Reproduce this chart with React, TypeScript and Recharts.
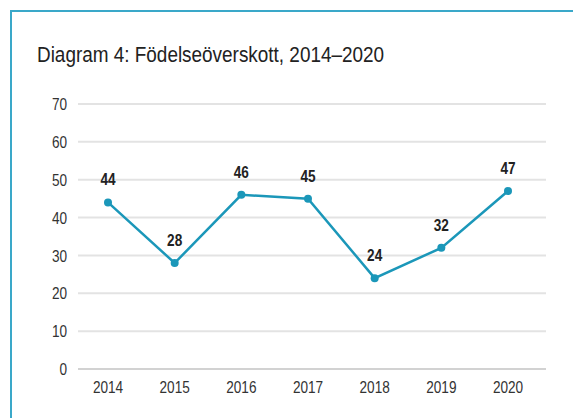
import React from 'react';
import { LineChart, Line, XAxis, YAxis, CartesianGrid, LabelList } from 'recharts';

const years = ['2014', '2015', '2016', '2017', '2018', '2019', '2020'];
const surplus = [44, 28, 46, 45, 24, 32, 47];
const yTicks = [0, 10, 20, 30, 40, 50, 60, 70];

const FONT = '"Liberation Sans", Arial, sans-serif';
const SQUEEZE = 0.8;

// narrow font is not available, so squeeze a regular one horizontally
const YTick = (props: any) => {
    const { x, y, payload } = props;
    return (
        <g transform={`translate(${x},${y}) scale(${SQUEEZE},1)`}>
            <text x={0} y={0} dy="0.36em" textAnchor="end" fontSize={17} fill="#333" fontFamily={FONT}>
                {payload.value}
            </text>
        </g>
    );
};

const XTick = (props: any) => {
    const { x, y, payload } = props;
    return (
        <g transform={`translate(${x},${y}) scale(${SQUEEZE},1)`}>
            <text x={0} y={0} dy="0.71em" textAnchor="middle" fontSize={17} fill="#333" fontFamily={FONT}>
                {payload.value}
            </text>
        </g>
    );
};

const ValueLabel = (props: any) => {
    const { x, y, value } = props;
    return (
        <g transform={`translate(${x},${y - 17}) scale(${SQUEEZE},1)`}>
            <text x={0} y={0} textAnchor="middle" fontSize={17} fontWeight={700} fill="#222" fontFamily={FONT}>
                {value}
            </text>
        </g>
    );
};

export default function App() {
    const data = years.map((year, i) => ({ year, value: surplus[i] }));

    return (
        <div style={{ position: 'absolute', left: 0, top: 0, width: 573, height: 418, background: '#fff', overflow: 'hidden', fontFamily: FONT }}>
            <div style={{ position: 'absolute', left: 10, top: 10, width: 600, height: 450, borderTop: '2px solid #3aa8c9', borderLeft: '2px solid #3aa8c9' }} />
            <div style={{ position: 'absolute', left: 37, top: 43, fontSize: 22, lineHeight: '24px', color: '#222', whiteSpace: 'nowrap', transform: 'scaleX(0.86)', transformOrigin: 'left top' }}>
                Diagram 4: Födelseöverskott, 2014–2020
            </div>
            <div style={{ position: 'absolute', left: 0, top: 0 }}>
                <LineChart width={573} height={418} data={data} margin={{ top: 104, right: 27, left: 0, bottom: 19 }}>
                    <CartesianGrid vertical={false} stroke="#e3e3e3" strokeWidth={2} />
                    <XAxis
                        dataKey="year"
                        padding={{ left: 30, right: 38 }}
                        tickLine={false}
                        axisLine={{ stroke: '#d2d2d2', strokeWidth: 2 }}
                        tickMargin={6}
                        height={30}
                        tick={<XTick />}
                    />
                    <YAxis
                        domain={[0, 70]}
                        ticks={yTicks}
                        width={78}
                        tickLine={false}
                        axisLine={false}
                        tickMargin={5}
                        tick={<YTick />}
                    />
                    <Line
                        type="linear"
                        dataKey="value"
                        stroke="#1b97b9"
                        strokeWidth={2.5}
                        dot={{ r: 4, fill: '#1b97b9', stroke: '#1b97b9', strokeWidth: 0 }}
                        isAnimationActive={false}
                    >
                        <LabelList dataKey="value" content={<ValueLabel />} />
                    </Line>
                </LineChart>
            </div>
        </div>
    );
}
